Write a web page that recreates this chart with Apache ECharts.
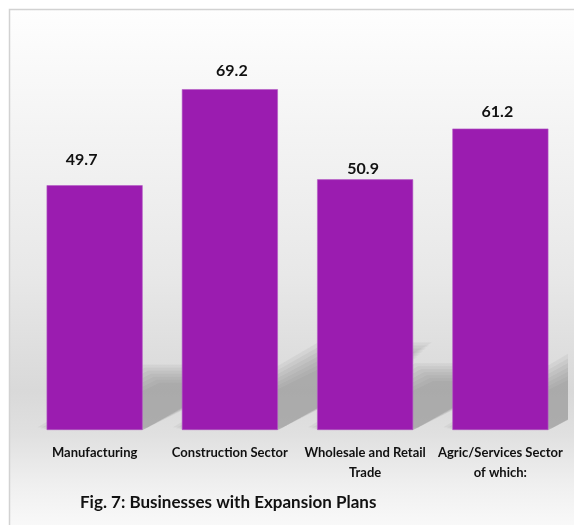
<!DOCTYPE html>
<html>
<head>
<meta charset="utf-8">
<script src="https://cdn.jsdelivr.net/npm/echarts@6/dist/echarts.min.js"></script>
<style>
html,body{margin:0;padding:0;background:#fff;}
#main{width:574px;height:525px;}
</style>
</head>
<body>
<div id="main"></div>
<script>
// ---- data ----
var categories = ['Manufacturing', 'Construction Sector', 'Wholesale and Retail\nTrade', 'Agric/Services Sector\nof which:'];
var values = [49.7, 69.2, 50.9, 61.2];
var chartTitle = 'Fig. 7: Businesses with Expansion Plans';

// ---- style ----
var FONT = 'Lato';
var BAR_COLOR = '#9b1cb0';
// per-label nudges (distance above bar, horizontal offset) to mimic the manual placement
var labelStyle = [
  {distance: 17, dx: -13},
  {distance: 10, dx: 2},
  {distance: 2, dx: -2},
  {distance: 9, dx: -3}
];

var chart = echarts.init(document.getElementById('main'), null, {renderer: 'canvas'});

var option = {
  animation: false,
  backgroundColor: '#ffffff',
  graphic: [
    {
      type: 'rect',
      z: -10,
      silent: true,
      shape: {x: 9.5, y: 9.5, width: 580, height: 530},
      style: {
        stroke: '#d2d2d2',
        lineWidth: 1.5,
        fill: {
          type: 'linear', x: 0, y: 0, x2: 0, y2: 1,
          colorStops: [
            {offset: 0, color: '#fefefe'},
            {offset: 0.27, color: '#f2f2f2'},
            {offset: 0.5, color: '#e8e8e8'},
            {offset: 0.72, color: '#d9d9d9'},
            {offset: 0.8, color: '#e0e0e0'},
            {offset: 0.9, color: '#f0f0f0'},
            {offset: 1, color: '#fcfcfc'}
          ]
        }
      }
    },
    {
      type: 'text',
      left: 80,
      top: 494,
      silent: true,
      style: {
        text: chartTitle,
        font: 'bold 17px ' + FONT,
        fill: '#111111'
      }
    }
  ],
  grid: {left: 27, right: 6, top: 36, bottom: 95, containLabel: false},
  xAxis: {
    type: 'category',
    data: categories,
    axisLine: {show: false},
    axisTick: {show: false},
    axisLabel: {
      interval: 0,
      margin: 13,
      color: '#111111',
      fontFamily: FONT,
      fontWeight: 'bold',
      fontSize: 13,
      lineHeight: 20,
      verticalAlign: 'top'
    },
    splitLine: {show: false}
  },
  yAxis: {
    type: 'value',
    min: 0,
    max: 80,
    show: false
  },
  series: [
    {
      // soft cast shadow behind each bar, derived from the bar's own value via the axis scale
      type: 'custom',
      z: 1,
      silent: true,
      clip: true,
      data: values.map(function (v, i) { return [i, v]; }),
      renderItem: function (params, api) {
        var i = api.value(0);
        var v = api.value(1);
        var base = api.coord([i, 0]);
        var top = api.coord([i, v]);
        var w = api.size([1, 0])[0] * 0.71;
        var x0 = base[0] - w / 2, x1 = base[0] + w / 2;
        var h = (base[1] - top[1]) * 0.23;
        var dx = h * 1.85;
        var b = base[1];
        var layers = [];
        var exps = [-9, -6, -3, 0, 3, 6, 9];
        exps.forEach(function (e) {
          layers.push({
            type: 'polygon',
            shape: {points: [
              [x0 - e, b - e * 0.3],
              [x1 + e * 0.6, b - e * 0.3],
              [x1 + dx + e, b - h - e],
              [x0 + dx - e, b - h - e]
            ]},
            style: {fill: 'rgba(140,140,140,0.11)'}
          });
        });
        return {type: 'group', children: layers};
      }
    },
    {
      type: 'bar',
      z: 3,
      barWidth: '71%',
      data: values.map(function (v, i) {
        return {
          value: v,
          label: {distance: labelStyle[i].distance, offset: [labelStyle[i].dx, 0]}
        };
      }),
      itemStyle: {color: BAR_COLOR, borderColor: '#b35ac4', borderWidth: 0.6},
      label: {
        show: true,
        position: 'top',
        color: '#111111',
        fontFamily: FONT,
        fontWeight: 'bold',
        fontSize: 16
      }
    }
  ]
};

chart.setOption(option);
</script>
</body>
</html>
